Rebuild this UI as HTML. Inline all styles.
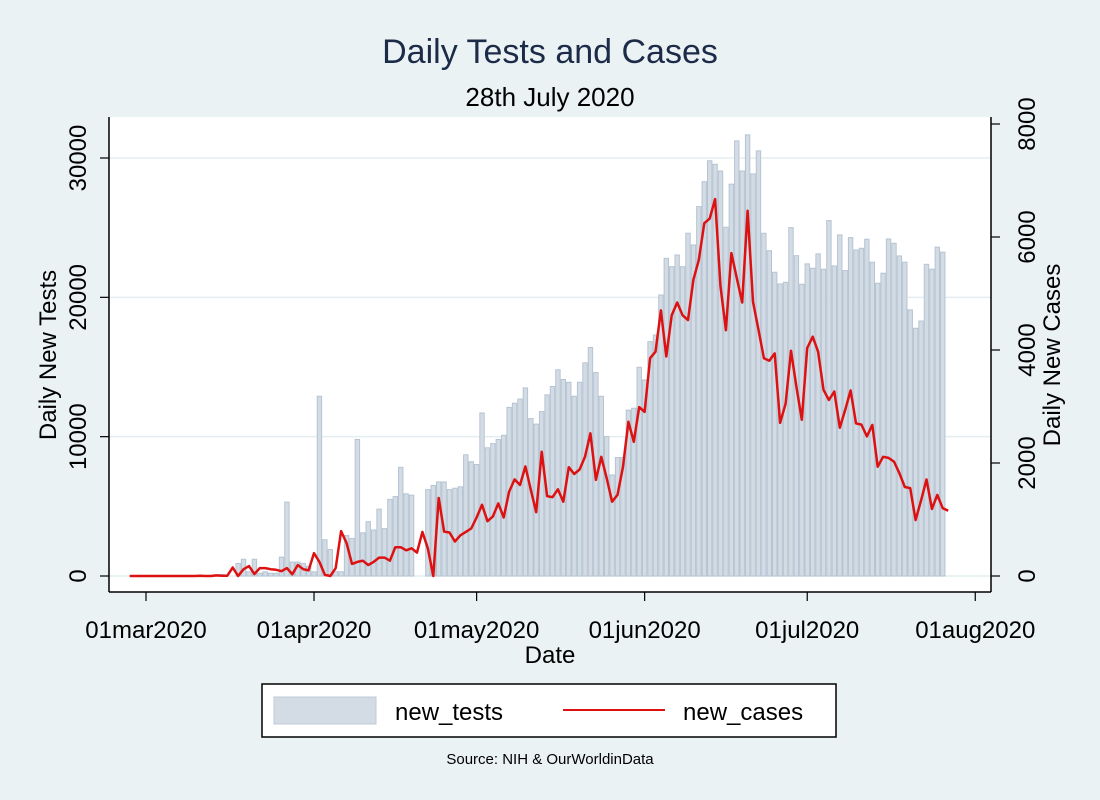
<!DOCTYPE html>
<html><head><meta charset="utf-8"><style>
html,body{margin:0;padding:0;background:#eaf2f3;}
svg{display:block;font-family:"Liberation Sans",Arial,sans-serif;}
</style></head><body>
<svg id="chart" width="1100" height="800" viewBox="0 0 1100 800">
<rect x="0" y="0" width="1100" height="800" fill="#eaf2f3"/>
<text x="550" y="63" text-anchor="middle" font-size="34" fill="#1c2b48">Daily Tests and Cases</text>
<text x="550" y="106" text-anchor="middle" font-size="26" fill="#000">28th July 2020</text>
<rect x="109" y="117" width="882" height="475" fill="#ffffff"/>
<g id="grid"></g>
<g id="bars"></g>
<g id="line"></g>
<g id="axes"></g>
<text transform="translate(56,355) rotate(-90)" text-anchor="middle" font-size="24">Daily New Tests</text>
<text transform="translate(1060,355) rotate(-90)" text-anchor="middle" font-size="24">Daily New Cases</text>
<text x="550" y="663" text-anchor="middle" font-size="24">Date</text>
<g>
<rect x="262" y="684" width="574" height="53" fill="#fff" stroke="#000" stroke-width="1.5"/>
<rect x="274" y="697" width="102" height="27" fill="#d3dce5" stroke="#bfcbd6"/>
<text x="395" y="720" font-size="24">new_tests</text>
<line x1="563" y1="710" x2="665" y2="710" stroke="#d11" stroke-width="2"/>
<text x="683" y="720" font-size="24">new_cases</text>
</g>
<text x="550" y="764" text-anchor="middle" font-size="15">Source: NIH &amp; OurWorldinData</text>
</svg>
<script>
// day index 0 = 01mar2020; series starts at day -3
const startDay = -3;
const newTests = [0,0,0,0,0,0,0,0,0,0,0,0,0,0,0,50,80,100,
0,0,900,1200,300,1200,200,300,200,200,1350,5300,1000,1000,900,700,300,
12900,2600,1900,300,300,2900,2700,9800,3100,3900,3300,4800,3400,5500,5700,7800,5900,5800,0,0,
6200,6500,6750,6750,6200,6300,6400,8700,8200,8000,11700,9200,9500,9800,10100,12100,12400,12700,13500,11300,10900,11800,13000,13600,14800,14100,13900,12900,13900,15300,16400,14600,12900,10000,7250,8500,8500,11900,
12040,14980,14070,16820,17300,20170,22800,22200,23040,22200,24600,23760,26510,28300,29800,29550,29070,25030,28120,31230,29070,31660,28860,30510,24600,23350,21800,20960,21080,25000,22990,20940,22400,
22090,23120,22020,25510,22250,24480,21920,24290,23400,23520,24170,22520,21010,21730,24190,23880,22970,22520,19100,17780,18300,22370,22020,23600,23240,null];
const newCases = [0,0,0,0,0,0,0,0,0,0,0,0,0,5,0,0,10,5,5,
150,0,120,175,35,140,140,120,110,85,140,30,195,120,100,405,250,20,0,140,795,585,215,250,270,195,250,325,325,270,510,510,455,490,415,780,490,0,1380,
785,770,610,720,780,840,1035,1260,970,1055,1285,1035,1490,1710,1610,1940,1525,1130,2200,1415,1395,1535,1315,1925,1805,1885,2110,2525,1700,2110,1730,1315,1435,1935,2730,2375,2990,2905,3855,3970,4700,3885,4615,4840,4615,4530,
5245,5595,6245,6325,6670,5125,4350,5715,5270,4840,6465,4855,4355,3855,3810,3940,2710,3050,3985,3350,2765,4035,4235,3970,3295,3115,3265,2625,2940,3285,2700,2680,2470,2675,1935,2110,2090,2025,1820,1575,1555,990,1340,1710,1185,1435,1200,1155];
const leftTicks = [0,10000,20000,30000];
const rightTicks = [0,2000,4000,6000,8000];
const xTickDays = [0,31,61,92,122,153];
const xTickLabels = ["01mar2020","01apr2020","01may2020","01jun2020","01jul2020","01aug2020"];

const NS="http://www.w3.org/2000/svg";
function xOf(day){return 146+day*5.42;}
function yL(v){return 576-v*(418/30000);}
function yR(v){return 576-v*(452/8000);}
function mk(tag,attrs,parent){const e=document.createElementNS(NS,tag);for(const k in attrs)e.setAttribute(k,attrs[k]);parent.appendChild(e);return e;}

const grid=document.getElementById('grid'),bars=document.getElementById('bars'),lineG=document.getElementById('line'),axes=document.getElementById('axes');
leftTicks.forEach(v=>{
  const g=mk('line',{x1:109,x2:991,y1:yL(v),y2:yL(v),stroke:'#e4eef0','stroke-width':1.5},grid);
  
  
});
newTests.forEach((v,i)=>{
  if(v===null||v<=0)return;
  const d=startDay+i;
  const r=mk('rect',{x:xOf(d)-2.2,y:yL(v),width:4.4,height:576-yL(v),fill:'#d3dce5',stroke:'#b6c4d2','stroke-width':1},bars);
  
  
});
let pts=newCases.map((v,i)=>xOf(startDay+i).toFixed(1)+','+yR(v).toFixed(1)).join(' ');
const pl=mk('polyline',{points:pts,fill:'none',stroke:'#dd1111','stroke-width':2.5,'stroke-linejoin':'round'},lineG);



mk('line',{x1:109,x2:109,y1:117,y2:592,stroke:'#000','stroke-width':1.5},axes);
mk('line',{x1:991,x2:991,y1:117,y2:592,stroke:'#000','stroke-width':1.5},axes);
mk('line',{x1:109,x2:991,y1:592,y2:592,stroke:'#000','stroke-width':1.5},axes);
leftTicks.forEach(v=>{
  mk('line',{x1:100,x2:109,y1:yL(v),y2:yL(v),stroke:'#000','stroke-width':1.2},axes);
  const t=mk('text',{transform:`translate(86,${yL(v)}) rotate(-90)`,'text-anchor':'middle','font-size':24},axes);
  t.textContent=v;
  
  
});
rightTicks.forEach(v=>{
  mk('line',{x1:991,x2:1000,y1:yR(v),y2:yR(v),stroke:'#000','stroke-width':1.2},axes);
  const t=mk('text',{transform:`translate(1035,${yR(v)}) rotate(-90)`,'text-anchor':'middle','font-size':24},axes);
  t.textContent=v;
  
  
});
xTickDays.forEach((d,i)=>{
  mk('line',{x1:xOf(d),x2:xOf(d),y1:592,y2:601,stroke:'#000','stroke-width':1.2},axes);
  const t=mk('text',{x:xOf(d),y:638,'text-anchor':'middle','font-size':24},axes);
  t.textContent=xTickLabels[i];
  
  
});
</script>
</body></html>
